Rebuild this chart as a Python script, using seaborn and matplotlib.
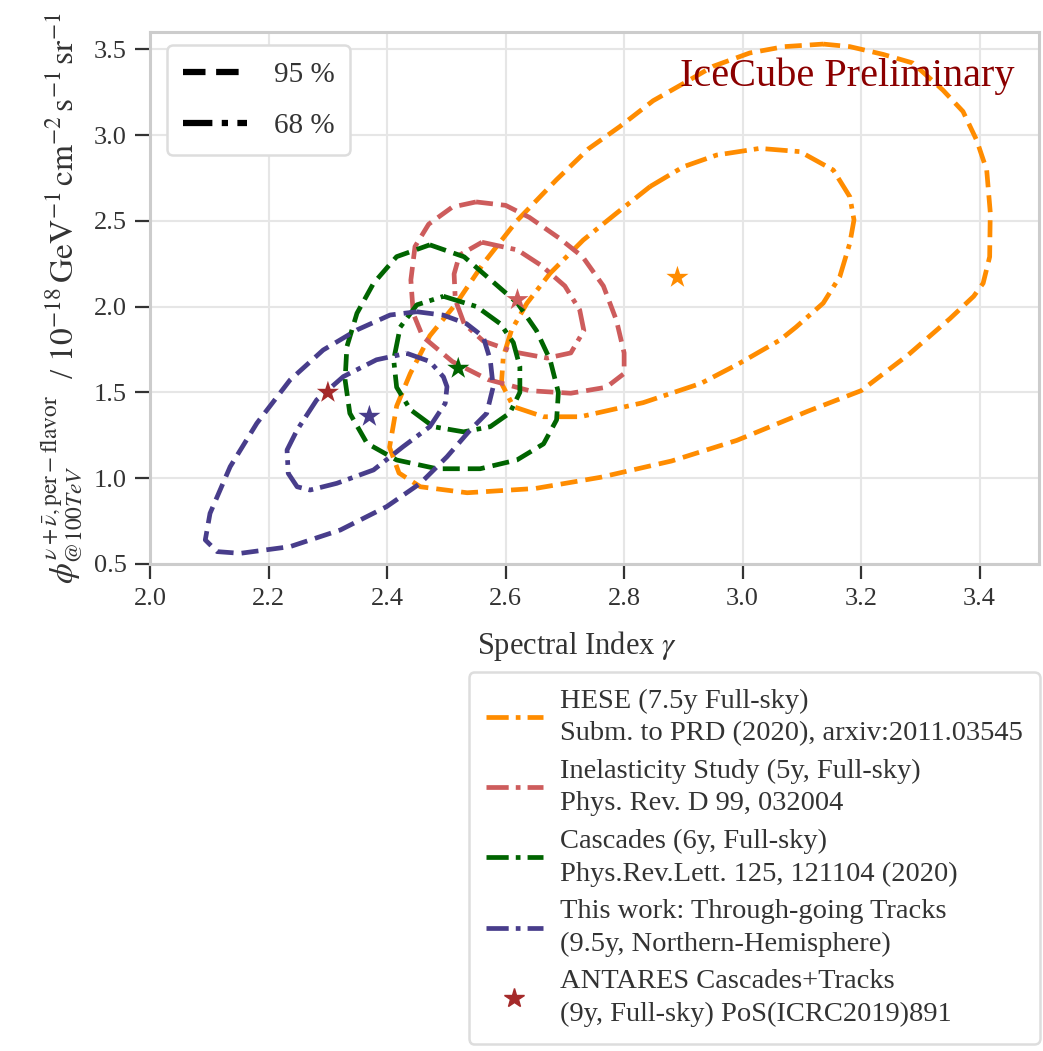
import numpy as np
import pandas as pd
import matplotlib
matplotlib.use("Agg")
import matplotlib.pyplot as plt
from matplotlib.lines import Line2D
import seaborn as sns

# ---------------- data ----------------
hese95_gamma = [3.136, 3.181, 3.237, 3.287, 3.338, 3.372, 3.395, 3.412, 3.418, 3.417, 3.406,
                3.39, 3.35, 3.28, 3.20, 3.11, 2.99, 2.88, 2.76, 2.65, 2.535, 2.456, 2.42,
                2.404, 2.416, 2.439, 2.472, 2.517, 2.562, 2.619, 2.686, 2.74, 2.793, 2.849,
                2.90, 2.95, 3.012, 3.07, 3.136]
hese95_phi = [3.53, 3.515, 3.47, 3.42, 3.262, 3.137, 2.97, 2.796, 2.55, 2.29, 2.136,
              2.06, 1.93, 1.72, 1.51, 1.39, 1.22, 1.10, 1.005, 0.94, 0.915, 0.95, 1.03,
              1.18, 1.42, 1.61, 1.83, 2.02, 2.25, 2.50, 2.74, 2.92, 3.05, 3.20,
              3.30, 3.40, 3.478, 3.515, 3.53]

hese68_gamma = [2.844, 2.90, 2.956, 3.029, 3.097, 3.153, 3.181, 3.188, 3.181, 3.164, 3.136, 3.09,
                3.063, 2.995, 2.93, 2.832, 2.726, 2.664, 2.613, 2.593, 2.596, 2.610, 2.636,
                2.675, 2.731, 2.787, 2.844]
hese68_phi = [2.70, 2.815, 2.883, 2.922, 2.903, 2.796, 2.64, 2.505, 2.37, 2.174, 2.02, 1.88,
              1.805, 1.67, 1.553, 1.44, 1.358, 1.358, 1.417, 1.553, 1.708, 1.864, 2.02,
              2.194, 2.388, 2.544, 2.70]

inel95_gamma = [2.55, 2.60, 2.64, 2.69, 2.73, 2.765, 2.787, 2.80, 2.80, 2.77, 2.71, 2.64, 2.57,
                2.51, 2.46, 2.444, 2.44, 2.447, 2.47, 2.51, 2.55]
inel95_phi = [2.61, 2.59, 2.52, 2.40, 2.29, 2.12, 1.92, 1.73, 1.61, 1.53, 1.495, 1.51, 1.575,
              1.68, 1.825, 1.96, 2.155, 2.35, 2.48, 2.58, 2.61]

inel68_gamma = [2.56, 2.62, 2.66, 2.70, 2.725, 2.732, 2.71, 2.67, 2.615, 2.562, 2.53, 2.515,
                2.513, 2.522, 2.56]
inel68_phi = [2.375, 2.33, 2.24, 2.12, 1.98, 1.86, 1.73, 1.70, 1.735, 1.80, 1.90, 2.04,
              2.19, 2.30, 2.375]

casc95_gamma = [2.472, 2.53, 2.57, 2.62, 2.652, 2.675, 2.689, 2.686, 2.664, 2.619, 2.557, 2.484,
                2.416, 2.366, 2.337, 2.329, 2.332, 2.349, 2.377, 2.416, 2.472]
casc95_phi = [2.36, 2.29, 2.17, 2.02, 1.86, 1.69, 1.50, 1.34, 1.20, 1.106, 1.055, 1.055,
              1.106, 1.203, 1.378, 1.572, 1.766, 1.961, 2.136, 2.291, 2.36]

casc68_gamma = [2.495, 2.551, 2.591, 2.613, 2.624, 2.624, 2.607, 2.574, 2.529, 2.478, 2.439,
                2.416, 2.411, 2.422, 2.450, 2.495]
casc68_phi = [2.06, 2.0, 1.90, 1.79, 1.65, 1.50, 1.38, 1.30, 1.27, 1.30, 1.40, 1.53, 1.69,
              1.88, 2.01, 2.06]

trk95_gamma = [2.45, 2.495, 2.534, 2.562, 2.574, 2.579, 2.568, 2.54, 2.501, 2.456, 2.399, 2.321,
               2.236, 2.152, 2.113, 2.093, 2.101, 2.135, 2.180, 2.236, 2.292, 2.349, 2.405, 2.45]
trk95_phi = [1.97, 1.95, 1.90, 1.825, 1.69, 1.533, 1.378, 1.28, 1.125, 0.97, 0.834, 0.698,
             0.601, 0.562, 0.572, 0.64, 0.795, 1.067, 1.32, 1.572, 1.747, 1.864, 1.951, 1.97]

trk68_gamma = [2.433, 2.472, 2.495, 2.501, 2.498, 2.472, 2.427, 2.377, 2.315, 2.27, 2.248,
               2.233, 2.231, 2.248, 2.281, 2.326, 2.382, 2.433]
trk68_phi = [1.728, 1.68, 1.59, 1.533, 1.436, 1.30, 1.184, 1.048, 0.97, 0.931, 0.95, 1.028,
             1.164, 1.281, 1.456, 1.592, 1.69, 1.728]

bestfit_names = ["HESE", "Inelasticity", "Cascades", "Tracks", "ANTARES"]
bestfit_gamma = [2.89, 2.62, 2.52, 2.37, 2.30]
bestfit_phi = [2.17, 2.04, 1.64, 1.36, 1.50]

dataset_labels = [
    "HESE (7.5y Full-sky)\nSubm. to PRD (2020), arxiv:2011.03545",
    "Inelasticity Study (5y, Full-sky)\nPhys. Rev. D 99, 032004",
    "Cascades (6y, Full-sky)\nPhys.Rev.Lett. 125, 121104 (2020)",
    "This work: Through-going Tracks\n(9.5y, Northern-Hemisphere)",
    "ANTARES Cascades+Tracks\n(9y, Full-sky) PoS(ICRC2019)891",
]
cl_labels = ["95 %", "68 %"]
xticks = [2.0, 2.2, 2.4, 2.6, 2.8, 3.0, 3.2, 3.4]
yticks = [0.5, 1.0, 1.5, 2.0, 2.5, 3.0, 3.5]

# ---------------- style ----------------
colors = ["darkorange", "indianred", "darkgreen", "darkslateblue", "brown"]

sns.set_theme(style="whitegrid")
plt.rcParams.update({
    "font.family": ["Liberation Serif", "DejaVu Serif"],
    "mathtext.fontset": "stix",
    "axes.edgecolor": "#cccccc",
    "axes.linewidth": 2.2,
    "grid.color": "#e6e6e6",
    "grid.linewidth": 1.5,
    "xtick.bottom": True,
    "ytick.left": True,
    "xtick.major.size": 11,
    "ytick.major.size": 11,
    "xtick.major.width": 1.6,
    "ytick.major.width": 1.6,
    "xtick.major.pad": 6,
    "ytick.major.pad": 6,
    "xtick.color": "#333333",
    "ytick.color": "#333333",
    "text.color": "#333333",
    "axes.labelcolor": "#333333",
})

fig = plt.figure(figsize=(10.43, 10.51), dpi=100)
ax = fig.add_axes([0.144, 0.4634, 0.852, 0.5061])

lw = 3.4
dash95 = (0, (3.6, 1.7))
dash68 = (0, (4.7, 1.5, 1.0, 1.5))
contours = [
    (hese95_gamma, hese95_phi, hese68_gamma, hese68_phi),
    (inel95_gamma, inel95_phi, inel68_gamma, inel68_phi),
    (casc95_gamma, casc95_phi, casc68_gamma, casc68_phi),
    (trk95_gamma, trk95_phi, trk68_gamma, trk68_phi),
]
for (g95, p95, g68, p68), c in zip(contours, colors):
    sns.lineplot(x=g95, y=p95, sort=False, estimator=None, ax=ax, color=c,
                 linewidth=lw, linestyle=dash95, legend=False)
    sns.lineplot(x=g68, y=p68, sort=False, estimator=None, ax=ax, color=c,
                 linewidth=lw, linestyle=dash68, legend=False)
for line in ax.get_lines():
    line.set_linewidth(lw)
    line.set_solid_joinstyle("round")
    line.set_dash_joinstyle("round")

bf = pd.DataFrame({"gamma": bestfit_gamma, "phi": bestfit_phi, "name": bestfit_names})
sns.scatterplot(data=bf, x="gamma", y="phi", hue="name", palette=colors, marker="*",
                s=280, linewidth=0, ax=ax, legend=False, zorder=5)

ax.set_xlim(2.0, 3.5)
ax.set_ylim(0.5, 3.6)
ax.set_xticks(xticks)
ax.set_yticks(yticks)
ax.set_xticklabels([f"{t:.1f}" for t in xticks], fontsize=19)
ax.set_yticklabels([f"{t:.1f}" for t in yticks], fontsize=19)
ax.set_xlabel(r"Spectral Index $\gamma$", fontsize=22, labelpad=10)
ax.xaxis.set_label_coords(0.48, -0.122)
ax.set_ylabel(r"$\phi_{@100TeV}^{\nu+\bar{\nu},\mathrm{per-flavor}}$  / $10^{-18}\,\mathrm{GeV}^{-1}\,\mathrm{cm}^{-2}\,\mathrm{s}^{-1}\,\mathrm{sr}^{-1}$",
              fontsize=24, labelpad=6)

ax.text(0.973, 0.953, "IceCube Preliminary", transform=ax.transAxes, ha="right", va="top",
        fontsize=29, color="darkred")

# confidence-level legend
cl_handles = [Line2D([], [], color="black", linewidth=4.5, linestyle=dash95),
              Line2D([], [], color="black", linewidth=4.5, linestyle=dash68)]
leg1 = ax.legend(cl_handles, cl_labels, loc="upper left", bbox_to_anchor=(0.019, 0.975),
                 fontsize=21, handlelength=2.2, labelspacing=0.85, borderpad=0.55,
                 handletextpad=0.9, borderaxespad=0,
                 frameon=True, framealpha=1, edgecolor="#dddddd")
leg1.get_frame().set_linewidth(1.8)

# dataset legend below the axes
ds_handles = [Line2D([], [], color=c, linewidth=lw, linestyle=dash68) for c in colors[:4]]
ds_handles.append(Line2D([], [], color=colors[4], marker="*", markersize=15, linestyle="none"))
leg2 = fig.legend(ds_handles, dataset_labels, loc="upper right", bbox_to_anchor=(0.997, 0.3606),
                  fontsize=20.5, handlelength=2.0, labelspacing=0.45, borderpad=0.6,
                  handletextpad=0.6, borderaxespad=0,
                  frameon=True, framealpha=1, edgecolor="#dddddd")
leg2.get_frame().set_linewidth(1.8)
for t in leg2.get_texts():
    t.set_linespacing(1.37)

fig.savefig("out.png", dpi=100)
